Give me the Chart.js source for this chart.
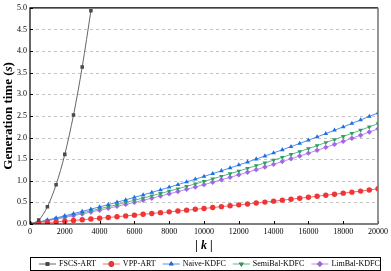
<!DOCTYPE html>
<html>
<head>
<meta charset="utf-8">
<script src="https://cdn.jsdelivr.net/npm/chart.js@4.4.0/dist/chart.umd.min.js"></script>
<style>
  html, body { margin: 0; padding: 0; background: #fff; }
  #wrap { width: 391px; height: 271px; }
</style>
</head>
<body>
<div id="wrap"><canvas id="genChart" width="391" height="271"></canvas></div>
<script>
// |k| values for the KDFC / VPP series (step 500)
var kValues = [0, 500, 1000, 1500, 2000, 2500, 3000, 3500, 4000, 4500, 5000,
	5500, 6000, 6500, 7000, 7500, 8000, 8500, 9000, 9500, 10000,
	10500, 11000, 11500, 12000, 12500, 13000, 13500, 14000, 14500, 15000,
	15500, 16000, 16500, 17000, 17500, 18000, 18500, 19000, 19500, 20000];

var fscsK = [0, 500, 1000, 1500, 2000, 2500, 3000, 3500];
var fscsArt = [0, 0.09, 0.40, 0.91, 1.61, 2.52, 3.63, 4.93];

var vppArt = [0, 0.016, 0.032, 0.048, 0.065, 0.082, 0.099, 0.116, 0.133, 0.151, 0.169,
	0.187, 0.205, 0.224, 0.243, 0.262, 0.281, 0.300, 0.320, 0.340, 0.360,
	0.380, 0.401, 0.422, 0.443, 0.464, 0.486, 0.507, 0.529, 0.551, 0.574,
	0.596, 0.619, 0.642, 0.666, 0.689, 0.713, 0.737, 0.761, 0.788, 0.815];

var naiveKdfc = [0, 0.046, 0.093, 0.141, 0.190, 0.240, 0.291, 0.343, 0.396, 0.449, 0.504,
	0.559, 0.616, 0.673, 0.731, 0.790, 0.850, 0.911, 0.973, 1.036, 1.100,
	1.165, 1.230, 1.297, 1.364, 1.433, 1.502, 1.572, 1.644, 1.716, 1.789,
	1.862, 1.938, 2.014, 2.090, 2.168, 2.246, 2.326, 2.406, 2.487, 2.570];

var semiBalKdfc = [0, 0.041, 0.083, 0.125, 0.169, 0.213, 0.259, 0.305, 0.352, 0.400, 0.449,
	0.498, 0.549, 0.600, 0.653, 0.706, 0.760, 0.815, 0.871, 0.927, 0.985,
	1.043, 1.103, 1.163, 1.224, 1.286, 1.349, 1.412, 1.477, 1.542, 1.609,
	1.676, 1.744, 1.813, 1.883, 1.953, 2.025, 2.097, 2.171, 2.245, 2.320];

var limBalKdfc = [0, 0.036, 0.074, 0.112, 0.152, 0.192, 0.233, 0.275, 0.318, 0.362, 0.408,
	0.453, 0.500, 0.548, 0.597, 0.647, 0.698, 0.749, 0.802, 0.855, 0.910,
	0.966, 1.022, 1.079, 1.138, 1.197, 1.257, 1.318, 1.380, 1.444, 1.508,
	1.573, 1.638, 1.705, 1.773, 1.842, 1.912, 1.982, 2.054, 2.127, 2.200];

var xTicks = [0, 2000, 4000, 6000, 8000, 10000, 12000, 14000, 16000, 18000, 20000];
var yTicks = [0, 0.5, 1, 1.5, 2, 2.5, 3, 3.5, 4, 4.5, 5];

var serif = '"Liberation Serif", "DejaVu Serif", serif';

function pts(xs, ys) {
	return ys.map(function (v, i) { return { x: xs[i], y: v }; });
}

function series(label, xs, ys, line, fill, marker, rot) {
	return {
		label: label,
		data: pts(xs, ys),
		borderColor: line,
		backgroundColor: fill,
		pointBackgroundColor: fill,
		pointBorderColor: fill,
		pointBorderWidth: 0,
		pointStyle: marker,
		pointRotation: rot || 0,
		pointRadius: marker === 'rect' ? 2.5 : 2.7,
		borderWidth: 1,
		fill: false
	};
}

var fscs = series('FSCS-ART', fscsK, fscsArt, '#666666', '#4a4a4a', 'rect');
fscs.cubicInterpolationMode = 'monotone';

var datasets = [
	fscs,
	series('VPP-ART', kValues, vppArt, '#f46a6a', '#ef3535', 'circle'),
	series('Naive-KDFC', kValues, naiveKdfc, '#4f8fe8', '#1e6fe6', 'triangle'),
	series('SemiBal-KDFC', kValues, semiBalKdfc, '#5bb888', '#2f9e62', 'triangle', 180),
	series('LimBal-KDFC', kValues, limBalKdfc, '#b98cf0', '#a466e8', 'rectRot')
];

// dashed grid, frame, inward ticks, axis titles and legend
var decorPlugin = {
	id: 'decor',
	beforeDatasetsDraw: function (chart) {
		var c = chart.ctx, a = chart.chartArea, ys = chart.scales.y;
		c.save();
		c.strokeStyle = '#c4c4c4';
		c.lineWidth = 1;
		c.setLineDash([3, 3]);
		yTicks.forEach(function (t) {
			if (t <= 0 || t >= 5) return;
			var py = Math.round(ys.getPixelForValue(t)) + 0.5;
			c.beginPath(); c.moveTo(a.left, py); c.lineTo(a.right, py); c.stroke();
		});
		c.restore();
	},
	afterDraw: function (chart) {
		var c = chart.ctx, a = chart.chartArea;
		var xs = chart.scales.x, ys = chart.scales.y;
		c.save();
		// ticks
		c.strokeStyle = '#000';
		c.lineWidth = 1;
		xTicks.forEach(function (t) {
			var px = Math.round(xs.getPixelForValue(t)) + 0.5;
			c.beginPath(); c.moveTo(px, a.bottom); c.lineTo(px, a.bottom - 3); c.stroke();
		});
		yTicks.forEach(function (t) {
			var py = Math.round(ys.getPixelForValue(t)) + 0.5;
			c.beginPath(); c.moveTo(a.left, py); c.lineTo(a.left + 3, py); c.stroke();
		});
		// frame
		c.lineWidth = 1.2;
		c.strokeStyle = '#000';
		c.beginPath();
		c.moveTo(a.right, a.top); c.lineTo(a.left, a.top);
		c.lineTo(a.left, a.bottom); c.lineTo(a.right, a.bottom);
		c.stroke();
		c.strokeStyle = '#7a7a7a';
		c.lineWidth = 1.6;
		c.beginPath(); c.moveTo(a.right, a.top); c.lineTo(a.right, a.bottom); c.stroke();

		// x title: | k |
		c.fillStyle = '#000';
		c.textBaseline = 'middle';
		var fb = 'bold 12px ' + serif, fi = 'italic bold 12px ' + serif;
		c.font = fb; var w1 = c.measureText('| ').width;
		c.font = fi; var w2 = c.measureText('k').width;
		c.font = fb; var w3 = c.measureText(' |').width;
		var xc = (a.left + a.right) / 2, xy = 246;
		var sx = xc - (w1 + w2 + w3) / 2;
		c.textAlign = 'left';
		c.font = fb; c.fillText('| ', sx, xy);
		c.font = fi; c.fillText('k', sx + w1, xy);
		c.font = fb; c.fillText(' |', sx + w1 + w2, xy);

		// y title: Generation time (s)
		var gb = 'bold 13px ' + serif, gi = 'italic bold 13px ' + serif;
		c.save();
		c.translate(9, (a.top + a.bottom) / 2);
		c.rotate(-Math.PI / 2);
		c.font = gb; var t1 = c.measureText('Generation time (').width;
		c.font = gi; var t2 = c.measureText('s').width;
		c.font = gb; var t3 = c.measureText(')').width;
		var ty = -(t1 + t2 + t3) / 2;
		c.font = gb; c.fillText('Generation time (', ty, 0);
		c.font = gi; c.fillText('s', ty + t1, 0);
		c.font = gb; c.fillText(')', ty + t1 + t2, 0);
		c.restore();

		// legend box
		var bx = 30, by = 257, bw = 350, bh = 13;
		c.strokeStyle = '#000';
		c.lineWidth = 1;
		c.strokeRect(bx + 0.5, by + 0.5, bw, bh);
		c.font = '8px ' + serif;
		var lx = 39, ly = by + bh / 2 + 0.5;
		chart.data.datasets.forEach(function (ds) {
			c.strokeStyle = ds.borderColor;
			c.lineWidth = 1;
			c.beginPath(); c.moveTo(lx, ly); c.lineTo(lx + 17, ly); c.stroke();
			Chart.helpers.drawPoint(c, {
				pointStyle: ds.pointStyle, rotation: ds.pointRotation,
				radius: ds.pointRadius, borderWidth: 0
			}, lx + 8.5, ly);
			c.fillStyle = ds.pointBackgroundColor;
			c.fill();
			c.fillStyle = '#000';
			c.fillText(ds.label, lx + 20, ly);
			lx += 20 + c.measureText(ds.label).width + 7;
		});
		c.restore();
	}
};

var ctx = document.getElementById('genChart').getContext('2d');
var genChart = new Chart(ctx, {
	type: 'line',
	data: { datasets: datasets },
	plugins: [decorPlugin],
	options: {
		responsive: false,
		animation: false,
		layout: { padding: { left: 0, right: 11, top: 5, bottom: 0 } },
		plugins: { legend: { display: false }, tooltip: { enabled: false } },
		scales: {
			x: {
				type: 'linear',
				min: 0, max: 20000,
				afterBuildTicks: function (s) { s.ticks = xTicks.map(function (v) { return { value: v }; }); },
				afterFit: function (s) { s.height = 47; },
				grid: { display: false, drawTicks: false },
				border: { display: false },
				ticks: {
					color: '#000', padding: 3, maxRotation: 0,
					font: { family: serif, size: 8 },
					callback: function (v) { return String(v); }
				}
			},
			y: {
				min: 0, max: 5,
				afterBuildTicks: function (s) { s.ticks = yTicks.map(function (v) { return { value: v }; }); },
				afterFit: function (s) { s.width = 30; },
				grid: { display: false, drawTicks: false },
				border: { display: false },
				ticks: {
					color: '#000', padding: 3,
					font: { family: serif, size: 8 },
					callback: function (v) { return v.toFixed(1); }
				}
			}
		}
	}
});
</script>
</body>
</html>
